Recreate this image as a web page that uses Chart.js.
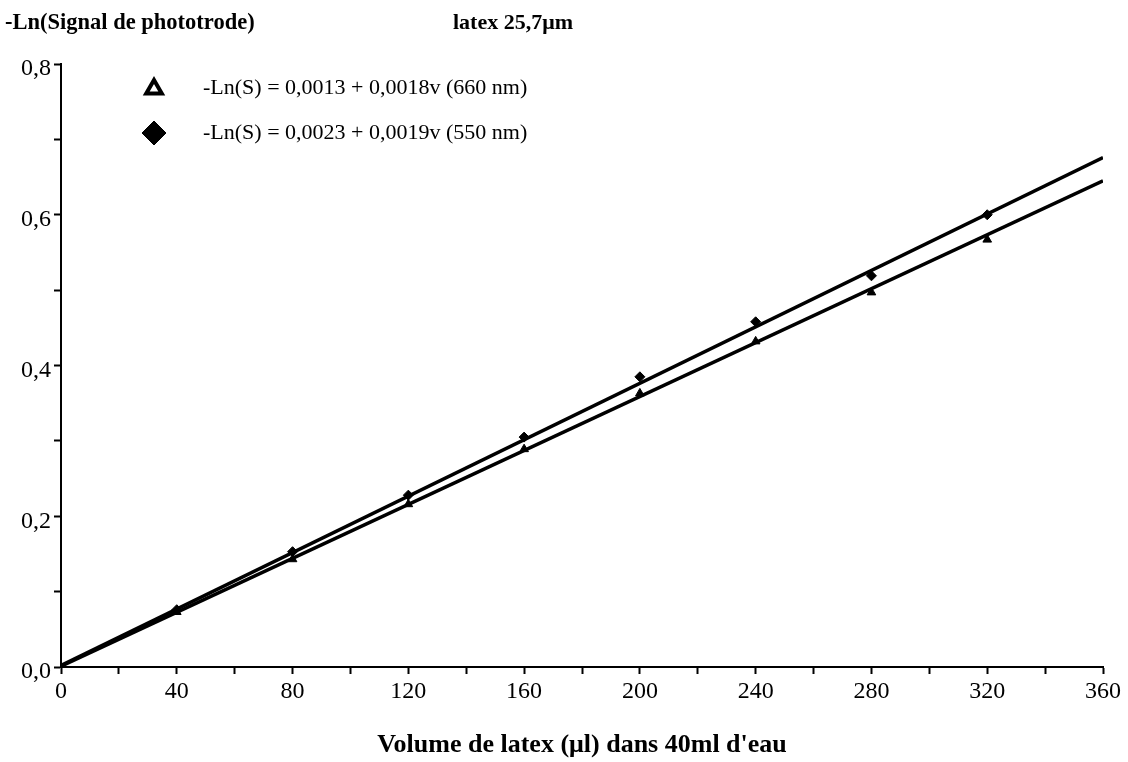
<!DOCTYPE html>
<html>
<head>
<meta charset="utf-8">
<script src="https://cdn.jsdelivr.net/npm/chart.js@4.4.1/dist/chart.umd.min.js"></script>
<style>
    html, body { margin: 0; padding: 0; background: #fff; }
    #wrap { width: 1128px; height: 762px; }
</style>
</head>
<body>
<div id="wrap"><canvas id="latexChart" width="1128" height="762"></canvas></div>
<script>
// volumes (µl) and measured -Ln(S)
const volumes = [0, 40, 80, 120, 160, 200, 240, 280, 320];
const signal660 = [0, 0.073, 0.143, 0.216, 0.289, 0.363, 0.432, 0.497, 0.567];
const signal550 = [0, 0.076, 0.153, 0.228, 0.305, 0.385, 0.458, 0.519, 0.600];

// fitted lines, end points
const fitVolumes = [0, 360];
const fit660 = [0.001, 0.645];
const fit550 = [0.002, 0.676];

const xLabelStep = 40;
const yTickLabels = ['0,0', '0,2', '0,4', '0,6', '0,8'];
const legendLabels = [
    '-Ln(S) = 0,0013 + 0,0018v (660 nm)',
    '-Ln(S) = 0,0023 + 0,0019v (550 nm)'
];
const chartTitle = '-Ln(Signal de phototrode)';
const chartSubtitle = 'latex 25,7\u03bcm';
const xTitle = "Volume de latex (\u03bcl) dans 40ml d'eau";

const serif = '"Liberation Serif", "DejaVu Serif", serif';

function toPoints(xs, ys) {
    return xs.map((x, i) => ({ x: x, y: ys[i] }));
}

const headerPlugin = {
    id: 'headerAndLegend',
    afterDraw(chart) {
        const ctx = chart.ctx;
        ctx.save();
        ctx.fillStyle = '#000';
        ctx.textBaseline = 'middle';
        ctx.textAlign = 'left';
        ctx.font = 'bold 22.5px ' + serif;
        ctx.fillText(chartTitle, 5, 23);
        ctx.font = 'bold 22px ' + serif;
        ctx.fillText(chartSubtitle, 453, 23);

        // open triangle
        ctx.fillStyle = '#fff';
        ctx.strokeStyle = '#000';
        ctx.lineWidth = 4;
        Chart.helpers.drawPoint(ctx, { pointStyle: 'triangle', radius: 9, borderWidth: 4 }, 154, 89);
        // filled diamond
        ctx.fillStyle = '#000';
        ctx.lineWidth = 1;
        Chart.helpers.drawPoint(ctx, { pointStyle: 'rectRot', radius: 12, borderWidth: 1 }, 154, 133);

        ctx.font = '22px ' + serif;
        ctx.fillText(legendLabels[0], 203, 88);
        ctx.fillText(legendLabels[1], 203, 133);
        ctx.restore();
    }
};

const ctx = document.getElementById('latexChart').getContext('2d');
new Chart(ctx, {
    type: 'scatter',
    data: {
        datasets: [
            {
                label: '660 nm fit',
                data: toPoints(fitVolumes, fit660),
                showLine: true,
                borderColor: '#000',
                borderWidth: 3.5,
                pointRadius: 0
            },
            {
                label: '550 nm fit',
                data: toPoints(fitVolumes, fit550),
                showLine: true,
                borderColor: '#000',
                borderWidth: 3.5,
                pointRadius: 0
            },
            {
                label: '660 nm',
                data: toPoints(volumes, signal660),
                pointStyle: 'triangle',
                pointRadius: 5,
                backgroundColor: '#000',
                borderColor: '#000',
                borderWidth: 1
            },
            {
                label: '550 nm',
                data: toPoints(volumes, signal550),
                pointStyle: 'rectRot',
                pointRadius: 5,
                backgroundColor: '#000',
                borderColor: '#000',
                borderWidth: 1
            }
        ]
    },
    options: {
        responsive: false,
        animation: false,
        layout: { padding: { top: 64, right: 25, bottom: 0, left: 0 } },
        plugins: {
            legend: { display: false },
            tooltip: { enabled: false }
        },
        scales: {
            x: {
                type: 'linear',
                min: 0,
                max: 360,
                afterFit(scale) { scale.height = 95; },
                border: { color: '#000', width: 2 },
                grid: {
                    drawOnChartArea: false,
                    drawTicks: true,
                    tickLength: 7,
                    tickColor: '#000',
                    tickWidth: 2
                },
                ticks: {
                    stepSize: 20,
                    autoSkip: false,
                    maxRotation: 0,
                    padding: 3,
                    color: '#000',
                    font: { family: serif, size: 24 },
                    callback: v => (v % xLabelStep === 0 ? String(v) : '')
                },
                title: {
                    display: true,
                    text: xTitle,
                    color: '#000',
                    font: { family: serif, size: 26, weight: 'bold' },
                    padding: { top: 0, bottom: 1 }
                }
            },
            y: {
                type: 'linear',
                min: 0,
                max: 0.8,
                afterFit(scale) { scale.width = 61; },
                border: { color: '#000', width: 2 },
                grid: {
                    drawOnChartArea: false,
                    drawTicks: true,
                    tickLength: 7,
                    tickColor: '#000',
                    tickWidth: 2
                },
                ticks: {
                    stepSize: 0.1,
                    autoSkip: false,
                    padding: 3,
                    labelOffset: 5,
                    color: '#000',
                    font: { family: serif, size: 24 },
                    callback: (v, i) => (i % 2 === 0 ? yTickLabels[i / 2] : '')
                }
            }
        }
    },
    plugins: [headerPlugin]
});
</script>
</body>
</html>
